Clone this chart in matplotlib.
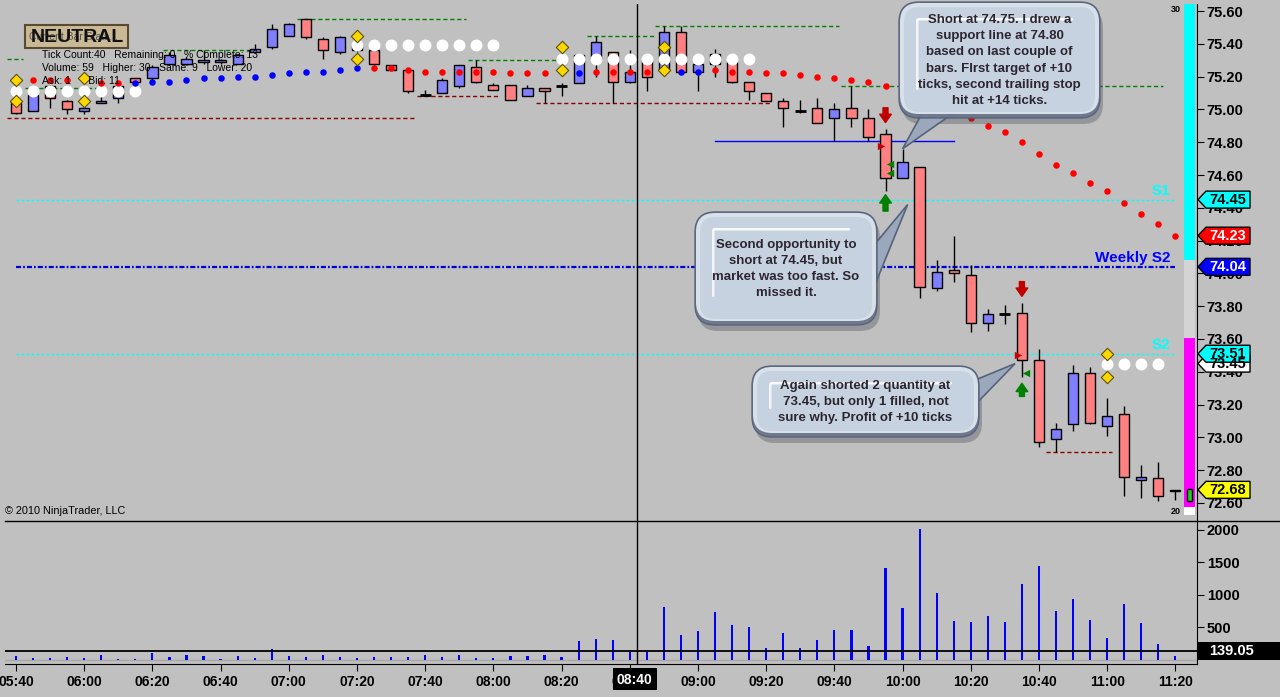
import numpy as np
import pandas as pd
import matplotlib
matplotlib.use('Agg')
import matplotlib.pyplot as plt
from matplotlib.patches import FancyBboxPatch, Polygon, Rectangle

plt.rcParams['font.family'] = ['Liberation Sans', 'DejaVu Sans']

# 5 min bars, 05:40 - 11:20
times = pd.date_range('2010-01-01 05:40', periods=69, freq='5min').strftime('%H:%M').tolist()
bars = np.arange(len(times))

opens = [75.04, 74.99, 75.14, 75.05, 74.99, 75.04, 75.07, 75.19, 75.19, 75.28,
         75.28, 75.29, 75.29, 75.28, 75.35, 75.38, 75.45, 75.55, 75.43, 75.35,
         75.39, 75.36, 75.27, 75.24, 75.09, 75.10, 75.14, 75.26, 75.15, 75.15,
         75.08, 75.13, 75.14, 75.16, 75.31, 75.35, 75.17, 75.30, 75.24, 75.47,
         75.23, 75.28, 75.29, 75.17, 75.10, 75.05, 74.99, 75.01, 74.95, 75.01,
         74.95, 74.85, 74.58, 74.65, 73.91, 74.02, 73.99, 73.70, 73.75, 73.76,
         73.47, 72.99, 73.08, 73.39, 73.07, 73.14, 72.74, 72.75, 72.67]
highs = [75.05, 75.10, 75.15, 75.06, 75.02, 75.12, 75.15, 75.19, 75.27, 75.35,
         75.32, 75.36, 75.31, 75.34, 75.40, 75.52, 75.53, 75.55, 75.44, 75.45,
         75.40, 75.37, 75.27, 75.25, 75.12, 75.19, 75.27, 75.30, 75.16, 75.15,
         75.15, 75.13, 75.16, 75.33, 75.45, 75.35, 75.36, 75.30, 75.51, 75.51,
         75.28, 75.37, 75.29, 75.17, 75.10, 75.07, 75.06, 75.07, 75.04, 75.14,
         75.00, 74.88, 74.76, 74.65, 74.08, 74.23, 74.05, 73.78, 73.81, 73.82,
         73.54, 73.09, 73.44, 73.43, 73.24, 73.19, 72.83, 72.85, 72.68]
lows = [74.97, 74.99, 75.01, 74.97, 74.97, 75.04, 75.04, 75.16, 75.18, 75.27,
        75.27, 75.28, 75.28, 75.28, 75.35, 75.37, 75.45, 75.43, 75.31, 75.34,
        75.35, 75.27, 75.24, 75.10, 75.08, 75.10, 75.13, 75.16, 75.12, 75.06,
        75.08, 75.04, 75.08, 75.16, 75.20, 75.04, 75.16, 75.11, 75.24, 75.23,
        75.11, 75.20, 75.16, 75.06, 75.05, 74.89, 74.98, 74.92, 74.81, 74.89,
        74.81, 74.50, 74.58, 73.85, 73.89, 73.95, 73.64, 73.65, 73.69, 73.37,
        72.94, 72.91, 73.04, 73.08, 73.01, 72.64, 72.63, 72.61, 72.62]
closes = [74.98, 75.09, 75.07, 75.00, 75.01, 75.05, 75.14, 75.17, 75.26, 75.33,
          75.31, 75.30, 75.30, 75.33, 75.37, 75.49, 75.52, 75.44, 75.36, 75.44,
          75.36, 75.28, 75.24, 75.11, 75.09, 75.18, 75.27, 75.17, 75.12, 75.06,
          75.13, 75.11, 75.14, 75.33, 75.41, 75.17, 75.23, 75.20, 75.47, 75.23,
          75.28, 75.34, 75.17, 75.11, 75.05, 75.01, 74.99, 74.92, 75.00, 74.95,
          74.83, 74.58, 74.68, 73.92, 74.01, 74.00, 73.70, 73.75, 73.75, 73.47,
          72.97, 73.05, 73.39, 73.09, 73.13, 72.76, 72.76, 72.64, 72.68]
volume = [57, 26, 26, 41, 26, 72, 10, 10, 103, 41,
          72, 57, 10, 57, 26, 165, 57, 41, 72, 41,
          26, 41, 41, 41, 72, 41, 72, 26, 26, 57,
          57, 72, 41, 289, 320, 304, 124, 125, 814, 381,
          443, 737, 536, 505, 180, 412, 180, 304, 459, 459,
          211, 1418, 799, 2005, 1031, 598, 582, 675, 582, 1170,
          1448, 753, 938, 613, 335, 861, 567, 242, 57]
vol_avg = 139.05

# trailing stop dots
stop_red_i = [1, 2, 3, 5, 6, 21, 22, 23, 24, 25, 26, 27, 28, 29, 30, 31, 34, 35, 36, 37,
              41, 42, 43, 44, 45, 46, 47, 48, 49, 50, 51, 52, 53, 54, 55, 56, 57, 58,
              59, 60, 61, 62, 63, 64, 65, 66, 67, 68]
stop_red = [75.18, 75.18, 75.18, 75.16, 75.16, 75.25, 75.25, 75.24, 75.23, 75.23, 75.23,
            75.23, 75.23, 75.22, 75.22, 75.22, 75.23, 75.23, 75.23, 75.23,
            75.24, 75.23, 75.23, 75.22, 75.22, 75.21, 75.20, 75.19, 75.18, 75.17,
            75.14, 75.11, 75.06, 75.03, 74.99, 74.95, 74.90, 74.86, 74.80, 74.73,
            74.66, 74.61, 74.55, 74.50, 74.43, 74.36, 74.30, 74.23]
stop_blue_i = [7, 8, 9, 10, 11, 12, 13, 14, 15, 16, 17, 18, 19, 20, 33, 39, 40]
stop_blue = [75.16, 75.17, 75.17, 75.18, 75.19, 75.19, 75.20, 75.20, 75.21, 75.22,
             75.23, 75.23, 75.24, 75.25, 75.22, 75.23, 75.23]

white_i = [0, 1, 2, 3, 4, 5, 6, 7, 20, 21, 22, 23, 24, 25, 26, 27, 28,
           32, 33, 34, 35, 36, 37, 38, 39, 40, 41, 42, 43, 64, 65, 66, 67]
white_p = [75.11] * 8 + [75.39] * 9 + [75.31] * 12 + [73.45] * 4

diamond_i = [0, 0, 4, 4, 20, 20, 32, 32, 38, 38, 64, 64]
diamond_p = [75.18, 75.05, 75.19, 75.05, 75.45, 75.31, 75.38, 75.24, 75.38, 75.24, 73.51, 73.37]

# swing high / low dashes
green_lv = [75.31, 75.13, 75.36, 75.55, 75.30, 75.45, 75.51, 75.14]
green_from = [-0.5, 0.5, 8.6, 16.5, 26.5, 33.5, 37.5, 48.4]
green_to = [0.4, 4.9, 13.7, 26.4, 32.3, 37.4, 48.3, 67.3]
red_lv = [74.95, 75.08, 75.04, 72.91]
red_from = [-0.5, 23.5, 30.5, 60.4]
red_to = [23.4, 28.4, 44.3, 64.3]

s1 = 74.45
s2 = 73.51
weekly_s2 = 74.04
support = 74.81
support_from, support_to = 41, 55

# trade markers
sig_i = [51, 59]
short_arrow = [(75.01, 74.92), (73.95, 73.86)]
cover_arrow = [(74.38, 74.48), (73.25, 73.33)]
entry_i = [50.75, 58.8]
entry_p = [74.78, 73.50]
exit_i = [51.25, 51.25, 59.25]
exit_p = [74.67, 74.61, 73.39]

crosshair = 36.4

W, H = 1280, 697
fig = plt.figure(figsize=(W / 100, H / 100), dpi=100, facecolor='#c0c0c0')


def panel(l, t, r, b):
    return [l / W, 1 - b / H, (r - l) / W, (b - t) / H]


ax = fig.add_axes(panel(5, 4, 1197, 521), facecolor='#c0c0c0')
axv = fig.add_axes(panel(5, 521, 1197, 664), facecolor='#c0c0c0', sharex=ax)
ov = fig.add_axes([0, 0, 1, 1], zorder=10)
ov.set_xlim(0, W)
ov.set_ylim(H, 0)
ov.axis('off')

ax.set_xlim(-0.645, 69.27)
ax.set_ylim(72.49, 75.643)
axv.set_ylim(-66, 2134)

# candles
o = np.array(opens); h = np.array(highs); l = np.array(lows); c = np.array(closes)
doji = c == o
ax.vlines(bars, l, h, color='black', lw=1, zorder=2)
cols = np.where(c > o, '#8080ff', '#ff8080')
ax.bar(bars[~doji], np.abs(c - o)[~doji], bottom=np.minimum(o, c)[~doji], width=0.6,
       color=cols[~doji], edgecolor='black', linewidth=1, zorder=3)
ax.hlines(c[doji], bars[doji] - 0.32, bars[doji] + 0.32, color='black', lw=2, zorder=3)

# levels
for lv, a, b in zip(green_lv, green_from, green_to):
    ax.plot([a, b], [lv, lv], color='#008000', lw=1, dashes=(3, 2), zorder=1)
for lv, a, b in zip(red_lv, red_from, red_to):
    ax.plot([a, b], [lv, lv], color='#8b0000', lw=1, dashes=(3, 2), zorder=1)
ax.plot([0, 68], [s1, s1], color='#00ffff', lw=1, dashes=(2, 1.6), zorder=1)
ax.plot([0, 68], [s2, s2], color='#00ffff', lw=1, dashes=(2, 1.6), zorder=1)
ax.plot([0, 68], [weekly_s2, weekly_s2], color='#0000dd', lw=1.6, dashes=(2.3, 0.9, 0.8, 0.9), zorder=1)
ax.plot([support_from, support_to], [support, support], color='#0000ff', lw=1, zorder=1)
ax.text(67.7, s1 + 0.01, 'S1', color='#00ffff', fontsize=11, fontweight='bold', ha='right', va='bottom')
ax.text(67.7, s2 + 0.01, 'S2', color='#00ffff', fontsize=11, fontweight='bold', ha='right', va='bottom')
ax.text(67.7, weekly_s2 + 0.01, 'Weekly S2', color='#0000ff', fontsize=11, fontweight='bold', ha='right', va='bottom')

# dots
ax.scatter(white_i, white_p, s=74, color='white', lw=0, zorder=5)
ax.scatter(stop_red_i, stop_red, s=22, color='#ff0000', lw=0, zorder=5)
ax.scatter(stop_blue_i, stop_blue, s=22, color='#0000ff', lw=0, zorder=5)
ax.scatter(diamond_i, diamond_p, marker='D', s=40, color='#ffd700', edgecolor='#5a5200', lw=0.8, zorder=6)

# trades
for i, (a, b) in zip(sig_i, short_arrow):
    ax.annotate('', xy=(i, b), xytext=(i, a), zorder=6,
                arrowprops=dict(arrowstyle='simple,head_length=0.5,head_width=0.7,tail_width=0.3',
                                fc='#c00000', ec='#c00000', mutation_scale=12, shrinkA=0, shrinkB=0))
for i, (a, b) in zip(sig_i, cover_arrow):
    ax.annotate('', xy=(i, b), xytext=(i, a), zorder=6,
                arrowprops=dict(arrowstyle='simple,head_length=0.5,head_width=0.7,tail_width=0.3',
                                fc='#008000', ec='#008000', mutation_scale=12, shrinkA=0, shrinkB=0))
ax.scatter(entry_i, entry_p, marker='>', s=28, color='#cc0000', lw=0, zorder=6)
ax.scatter(exit_i, exit_p, marker='<', s=28, color='#008000', lw=0, zorder=6)

ax.axvline(crosshair, color='black', lw=1, zorder=4)

# price axis
ax.yaxis.tick_right()
pt = np.arange(72.6, 75.61, 0.2)
ax.set_yticks(pt, labels=[f'{t:.2f}' for t in pt], fontsize=10.5, fontweight='bold')
ax.tick_params(axis='y', direction='out', length=5, pad=2)
ax.tick_params(axis='x', bottom=False, labelbottom=False)
for s in ['left', 'top', 'bottom']:
    ax.spines[s].set_visible(False)

# volume
axv.bar(bars, volume, width=0.13, color='#0000ff', zorder=3)
axv.axhline(0, color='#a8a8a8', lw=1, zorder=2)
axv.axhline(vol_avg, color='black', lw=1.3, zorder=4)
axv.axvline(crosshair, color='black', lw=1, zorder=4)
axv.yaxis.tick_right()
vt = [500, 1000, 1500, 2000]
axv.set_yticks(vt, labels=[str(v) for v in vt], fontsize=10.5, fontweight='bold')
axv.tick_params(axis='y', direction='out', length=5, pad=2)
axv.set_xticks(bars[::4], labels=times[::4], fontsize=10, fontweight='bold')
axv.tick_params(axis='x', direction='out', length=5, pad=3)
for s in ['left', 'top']:
    axv.spines[s].set_visible(False)
ov.plot([5, W], [521, 521], color='black', lw=1)

# overlay helpers
inv = ov.transData.inverted()


def py(p):
    return inv.transform(ax.transData.transform((0, p)))[1]


def pxy(i, p):
    return inv.transform(ax.transData.transform((i, p)))


def tag(y, text, fc, tc):
    ov.add_patch(Polygon([(1198, y), (1206, y - 8.5), (1250, y - 8.5), (1250, y + 8.5), (1206, y + 8.5)],
                         closed=True, fc=fc, ec='black', lw=1, zorder=30))
    ov.text(1228, y + 0.5, text, ha='center', va='center', fontsize=10.5, fontweight='bold', color=tc, zorder=31)


tag(py(s1), f'{s1:.2f}', '#00ffff', 'black')
tag(py(stop_red[-1]), f'{stop_red[-1]:.2f}', '#ff0000', 'white')
tag(py(weekly_s2), f'{weekly_s2:.2f}', '#0000ff', 'white')
tag(py(white_p[-1]), f'{white_p[-1]:.2f}', '#ffffff', 'black')
tag(py(s2), f'{s2:.2f}', '#00ffff', 'black')
tag(py(closes[-1]), f'{closes[-1]:.2f}', '#ffff00', 'black')
yv = inv.transform(axv.transData.transform((0, vol_avg)))[1]
ov.add_patch(Rectangle((1197, yv - 9), 83, 18, fc='black', ec='none', zorder=30))
ov.text(1232, yv + 0.5, f'{vol_avg:.2f}', ha='center', va='center', fontsize=10.5,
        fontweight='bold', color='white', zorder=31)

# crosshair time label
xc = pxy(crosshair, 75)[0]
ov.add_patch(Rectangle((xc - 24, 668), 44, 22, fc='black', ec='none', zorder=30))
ov.text(xc - 2, 679.5, times[int(crosshair)], ha='center', va='center', fontsize=10,
        fontweight='bold', color='white', zorder=31)

# up/down strip
ov.add_patch(Rectangle((1184, 4), 11, 256, fc='#00ffff', ec='none', zorder=5))
ov.add_patch(Rectangle((1184, 260), 11, 78, fc='#d4d4d4', ec='none', zorder=5))
ov.add_patch(Rectangle((1184, 338), 11, 169, fc='#ff00ff', ec='none', zorder=5))
ov.add_patch(Rectangle((1184, 507), 11, 8, fc='white', ec='none', zorder=5))
ov.add_patch(Rectangle((1187, 489), 5, 12, fc='#22cc22', ec='black', lw=1, zorder=6))
ov.text(1181, 9, '30', ha='right', va='center', fontsize=6.5, fontweight='bold', zorder=6)
ov.text(1181, 511, '20', ha='right', va='center', fontsize=6.5, fontweight='bold', zorder=6)

# bar stats box
ov.add_patch(Rectangle((25, 25), 103, 23, fc='#c9b994', ec='#5a4a30', lw=1.5, zorder=20))
ov.text(29, 37, 'Current Bar Stats...', fontsize=7.5, va='center', color='#555555', zorder=21)
ov.text(77, 37, 'NEUTRAL', fontsize=14, fontweight='bold', ha='center', va='center', color='#111111', zorder=22)
ov.text(42, 55, 'Tick Count:40   Remaining: 0   % Complete: 13', fontsize=7.5, va='center', zorder=21)
ov.text(42, 68, 'Volume: 59   Higher: 30   Same: 9   Lower: 20', fontsize=7.5, va='center', zorder=21)
ov.text(42, 81, 'Ask: 1      Bid: 11', fontsize=7.5, va='center', zorder=21)
ov.text(5, 511, '\u00a9 2010 NinjaTrader, LLC', fontsize=7.8, va='center', zorder=21)


def rbox(x, y, w, hh, r, **kw):
    ov.add_patch(FancyBboxPatch((x, y), w, hh, boxstyle=f'round,pad=0,rounding_size={r}', **kw))


def callout(x0, y0, x1, y1, base, tip, text):
    w, hh = x1 - x0, y1 - y0
    rbox(x0 + 3, y0 + 6, w, hh, 20, fc='#2f3540', ec='none', alpha=0.3, zorder=40)
    ov.add_patch(Polygon([base[0], tuple(tip), base[1]], closed=True, fc='#9ba8bc', ec='#56627a',
                         lw=1.2, zorder=41))
    rbox(x0, y0, w, hh, 20, fc='#6c788e', ec='#56627a', lw=1, zorder=42, alpha=0.95)
    rbox(x0 + 1, y0 + 1, w - 2, hh - 5, 19, fc='#dfe6ef', ec='none', zorder=42.5, alpha=0.95)
    rbox(x0 + 5, y0 + 5, w - 10, hh - 11, 15, fc='#c6d1e0', ec='none', zorder=43, alpha=0.9)
    rbox(x0 + 18, y0 + 16, w - 45, 2.5, 1.2, fc='white', ec='none', zorder=44, alpha=0.9)
    rbox(x0 + 17, y0 + 17, 2.5, hh - 45, 1.2, fc='white', ec='none', zorder=44, alpha=0.8)
    ov.text((x0 + x1) / 2, (y0 + y1) / 2 + 0.5, text, ha='center', va='center', fontsize=9.5,
            fontweight='bold', color='#2c2630', linespacing=1.45, zorder=45)


callout(899, 2, 1100, 118, [(925, 108), (955, 112)], pxy(52, 74.76),
        'Short at 74.75. I drew a\nsupport line at 74.80\nbased on last couple of\n'
        'bars. FIrst target of +10\nticks, second trailing stop\nhit at +14 ticks.')
callout(695, 212, 877, 325, [(870, 250), (872, 292)], pxy(52.3, 74.42),
        'Second opportunity to\nshort at 74.45, but\nmarket was too fast. So\nmissed it.')
callout(752, 366, 979, 437, [(968, 383), (972, 408)], pxy(58.6, 73.45),
        'Again shorted 2 quantity at\n73.45, but only 1 filled, not\nsure why. Profit of +10 ticks')

fig.savefig('out.png', dpi=100, facecolor=fig.get_facecolor())
